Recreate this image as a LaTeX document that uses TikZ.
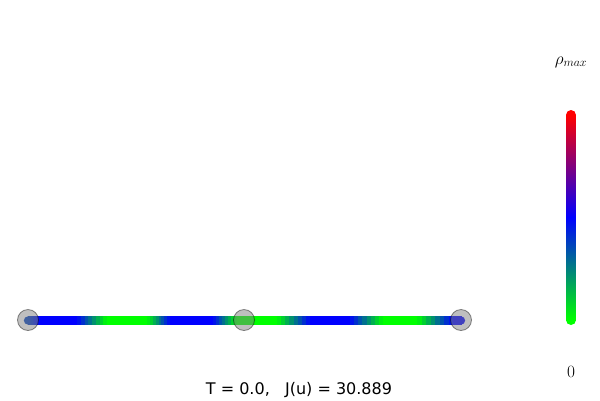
\documentclass[tikz,border=0pt]{standalone}
\usepackage{fontspec}
\newfontfamily\dejavu{DejaVu Sans}
\tikzset{
  vtx/.style={circle, minimum size=21pt, inner sep=0pt, fill=gray, fill opacity=0.5, draw=black, draw opacity=0.45, line width=0.8pt},
  seg/.style={line width=8.3pt},
  lbl/.style={inner sep=0pt, font=\fontsize{16.5}{19}\selectfont}
}
\begin{document}
\begin{tikzpicture}[x=1pt,y=-1pt]
\useasboundingbox (0,0) rectangle (600,400);
% edge line with density colouring
\fill[blue!75!green] (28,320.5) circle (4.15pt);
\fill[blue] (461,320.5) circle (4.15pt);
\foreach \xa/\pa/\xb/\pb in {28/0.75/40/1, 40/1/77/1, 77/1/107/0, 107/0/147/0, 147/0/170/1, 170/1/213/1, 213/1/237/0, 237/0/277/0, 277/0/310/1, 310/1/350/1, 350/1/383/0, 383/0/417/0, 417/0/453/1, 453/1/461/1}{
  \foreach \k in {0,...,7}{
    \pgfmathsetmacro\xs{\xa+(\xb-\xa)*\k/8}
    \pgfmathsetmacro\xe{\xa+(\xb-\xa)*(\k+1)/8+0.6}
    \pgfmathtruncatemacro\pp{100*(\pa+(\pb-\pa)*(\k+0.5)/8)}
    \draw[seg, blue!\pp!green] (\xs,320.5) -- (\xe,320.5);
  }
}
% vertices
\node[vtx] (v1) at (28,320) {};
\node[vtx] (v2) at (244,320) {};
\node[vtx] (v3) at (461,320) {};
% colour bar
\begin{scope}
\clip[rounded corners=5pt] (566,110) rectangle (576,325);
\fill[red] (566,109) rectangle (576,115.5);
\fill[green] (566,319.5) rectangle (576,326);
\shade[top color=red, bottom color=blue] (566,115) rectangle (576,217.8);
\shade[top color=blue, bottom color=green] (566,217.2) rectangle (576,320);
\end{scope}
\node[lbl] (rmax) at (571,62) {$\rho_{max}$};
\node[lbl] (rzero) at (571,372) {$0$};
% title
\node[inner sep=0pt, font=\dejavu\fontsize{16}{19}\selectfont] (title) at (299,390) {T = 0.0,\ \ \ J(u) = 30.889};
\end{tikzpicture}
\end{document}
